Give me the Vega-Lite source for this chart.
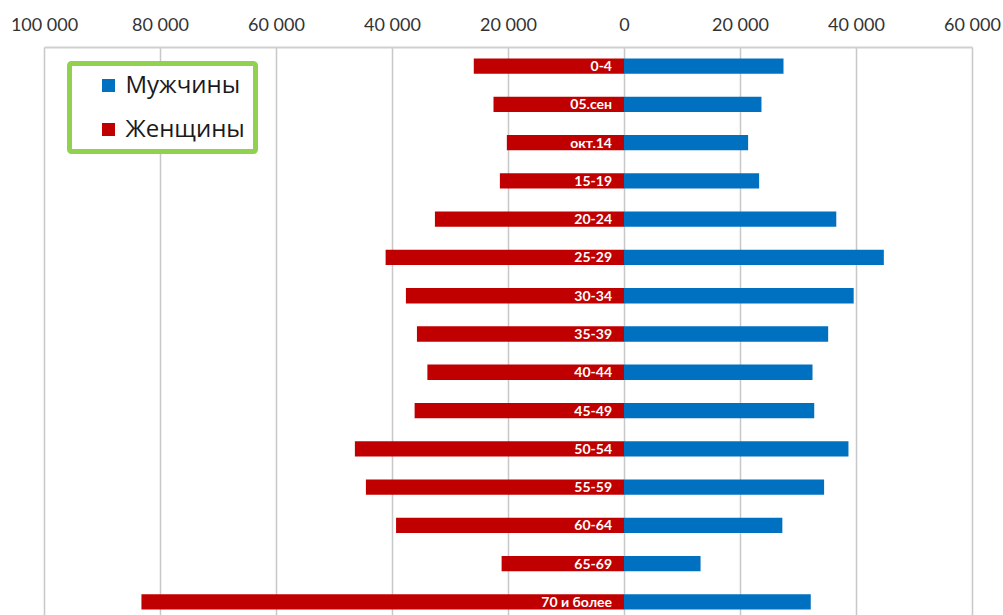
{
  "$schema": "https://vega.github.io/schema/vega-lite/v6.json",
  "autosize": {"type": "none"},
  "padding": {"left": 44, "top": 47, "right": 31, "bottom": 0},
  "width": 928,
  "height": 574,
  "background": "white",
  "config": {
    "view": {"stroke": null},
    "font": "Lato",
    "legend": {"strokeWidth": 5}
  },
  "data": {
    "values": [
      {"age": "0-4", "sex": "Мужчины", "value": 27500},
      {"age": "0-4", "sex": "Женщины", "value": -25900},
      {"age": "05.сен", "sex": "Мужчины", "value": 23700},
      {"age": "05.сен", "sex": "Женщины", "value": -22500},
      {"age": "окт.14", "sex": "Мужчины", "value": 21400},
      {"age": "окт.14", "sex": "Женщины", "value": -20200},
      {"age": "15-19", "sex": "Мужчины", "value": 23300},
      {"age": "15-19", "sex": "Женщины", "value": -21400},
      {"age": "20-24", "sex": "Мужчины", "value": 36600},
      {"age": "20-24", "sex": "Женщины", "value": -32600},
      {"age": "25-29", "sex": "Мужчины", "value": 44800},
      {"age": "25-29", "sex": "Женщины", "value": -41100},
      {"age": "30-34", "sex": "Мужчины", "value": 39600},
      {"age": "30-34", "sex": "Женщины", "value": -37600},
      {"age": "35-39", "sex": "Мужчины", "value": 35200},
      {"age": "35-39", "sex": "Женщины", "value": -35700},
      {"age": "40-44", "sex": "Мужчины", "value": 32500},
      {"age": "40-44", "sex": "Женщины", "value": -33900},
      {"age": "45-49", "sex": "Мужчины", "value": 32800},
      {"age": "45-49", "sex": "Женщины", "value": -36100},
      {"age": "50-54", "sex": "Мужчины", "value": 38700},
      {"age": "50-54", "sex": "Женщины", "value": -46400},
      {"age": "55-59", "sex": "Мужчины", "value": 34500},
      {"age": "55-59", "sex": "Женщины", "value": -44500},
      {"age": "60-64", "sex": "Мужчины", "value": 27300},
      {"age": "60-64", "sex": "Женщины", "value": -39300},
      {"age": "65-69", "sex": "Мужчины", "value": 13200},
      {"age": "65-69", "sex": "Женщины", "value": -21100},
      {"age": "70 и более", "sex": "Мужчины", "value": 32200},
      {"age": "70 и более", "sex": "Женщины", "value": -83200}
    ]
  },
  "encoding": {
    "y": {
      "field": "age",
      "type": "nominal",
      "sort": ["0-4", "05.сен", "окт.14", "15-19", "20-24", "25-29", "30-34", "35-39", "40-44", "45-49", "50-54", "55-59", "60-64", "65-69", "70 и более"],
      "scale": {"paddingInner": 0.6, "paddingOuter": 0.3},
      "axis": null
    }
  },
  "layer": [
    {
      "mark": {"type": "bar"},
      "encoding": {
        "x": {
          "field": "value",
          "type": "quantitative",
          "stack": null,
          "scale": {"domain": [-100000, 60000], "nice": false},
          "axis": {
            "orient": "top",
            "title": null,
            "values": [-100000, -80000, -60000, -40000, -20000, 0, 20000, 40000, 60000],
            "labelExpr": "replace(format(abs(datum.value), ','), ',', ' ')",
            "labelFont": "Lato",
            "labelFontSize": 18,
            "labelColor": "#333333",
            "labelPadding": 13,
            "labelFlush": false,
            "labelOverlap": false,
            "ticks": false,
            "domain": true,
            "domainColor": "#d0d0d0",
            "domainWidth": 2,
            "grid": true,
            "gridColor": "#c8c8c8",
            "gridWidth": 1.5
          }
        },
        "color": {
          "field": "sex",
          "type": "nominal",
          "scale": {"domain": ["Мужчины", "Женщины"], "range": ["#0070C0", "#C00000"]},
          "legend": {
            "title": null,
            "orient": "none",
            "legendX": 25.5,
            "legendY": 16.5,
            "direction": "vertical",
            "symbolType": "square",
            "symbolSize": 169,
            "symbolStrokeWidth": 0,
            "labelFont": "Open Sans",
            "labelFontSize": 24,
            "labelColor": "#1a1a1a",
            "labelOffset": 5,
            "rowPadding": 20,
            "padding": 10,
            "strokeColor": "#92D050",
            "fillColor": "white",
            "offset": 0,
            "cornerRadius": 2,
            "symbolOffset": 17,
            "labelLimit": 300
          }
        }
      }
    },
    {
      "transform": [{"filter": "datum.sex === 'Женщины'"}],
      "mark": {"type": "text", "align": "right", "baseline": "middle", "dx": -12, "dy": 1, "color": "white", "fontWeight": "bold", "fontSize": 14, "font": "Lato"},
      "encoding": {
        "x": {"datum": 0, "type": "quantitative"},
        "text": {"field": "age"}
      }
    }
  ]
}
